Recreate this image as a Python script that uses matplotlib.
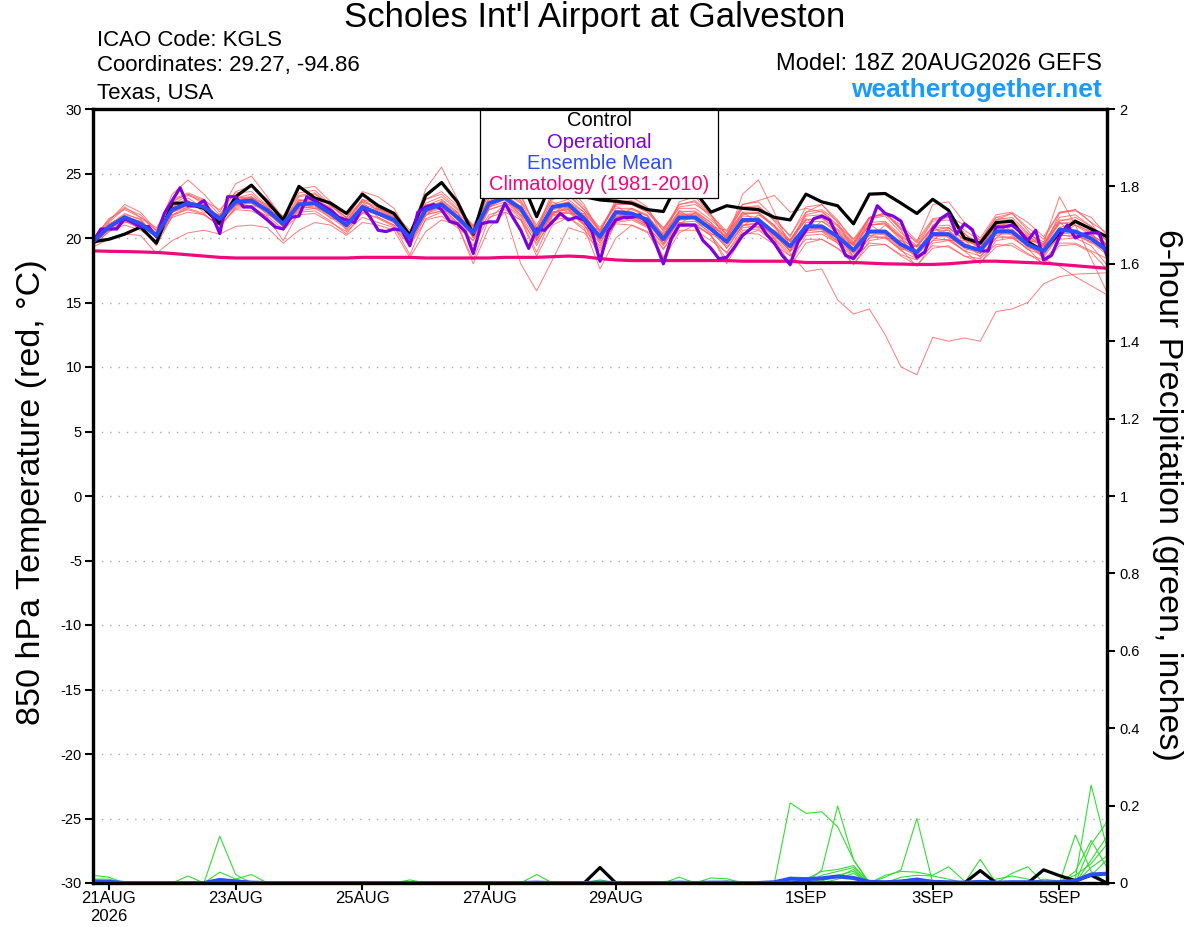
import numpy as np
import pandas as pd
import matplotlib
matplotlib.use('Agg')
import matplotlib.pyplot as plt
from matplotlib.patches import Rectangle

plt.rcParams['font.family'] = ['Liberation Sans', 'DejaVu Sans']
plt.rcParams['axes.unicode_minus'] = False

# 6-hourly ensemble times, 3-hourly operational run
times = pd.date_range('2026-08-20 18:00', periods=65, freq='6h')
times_op = pd.date_range('2026-08-20 18:00', periods=129, freq='3h')

# ---- 850 hPa temperature (C) ----
control = [19.7, 19.9, 20.3, 20.85, 19.6, 22.7, 22.7, 22.3, 21.1, 23.2, 24.1, 22.8, 21.4, 24.0, 23.1, 22.7,
           21.9, 23.4, 22.5, 21.9, 20.2, 23.3, 24.3, 22.8, 20.3, 24.4, 24.2, 24.6, 21.65, 24.5, 23.8, 23.2,
           22.95, 22.85, 22.7, 22.2, 22.05, 24.5, 23.6, 22.0, 22.5, 22.3, 22.2, 21.6, 21.4, 23.4, 22.8, 22.5,
           21.1, 23.4, 23.45, 22.7, 21.9, 23.0, 22.15, 20.0, 19.6, 21.2, 21.3, 19.7, 19.0, 20.4, 21.3, 20.7,
           20.1]

operational = [19.7, 20.7, 20.7, 20.7, 21.5, 21.2, 20.85, 20.9, 20.1, 21.9, 22.9, 23.9, 22.5, 22.5, 22.9, 21.8,
               20.35, 23.2, 23.2, 22.4, 22.4, 21.9, 21.4, 20.85, 20.7, 21.6, 21.7, 23.2, 22.9, 22.5, 22.15, 21.6,
               21.4, 21.2, 22.4, 21.6, 20.6, 20.5, 20.7, 20.6, 19.4, 22.0, 22.4, 22.6, 22.2, 21.3, 21.1, 20.5,
               18.8, 21.1, 21.25, 21.25, 22.7, 21.6, 20.6, 19.2, 20.7, 20.6, 21.25, 21.9, 21.4, 21.6, 21.4, 20.5,
               18.2, 20.5, 21.4, 21.6, 21.6, 21.8, 21.1, 19.6, 18.0, 19.95, 21.0, 21.0, 21.0, 19.8, 19.2, 18.4,
               18.5, 19.3, 20.2, 20.7, 21.25, 20.3, 19.6, 18.65, 17.95, 19.7, 20.6, 21.5, 21.7, 21.4, 20.1, 18.65,
               18.4, 19.2, 20.85, 22.5, 21.9, 21.7, 21.3, 19.8, 18.5, 18.9, 20.7, 21.5, 21.9, 20.3, 21.1, 20.65,
               19.0, 19.0, 20.85, 20.85, 21.0, 20.5, 19.8, 20.6, 18.3, 18.65, 20.1, 21.0, 20.0, 20.3, 20.4, 20.4,
               18.6]

ens_mean = [19.7, 20.85, 21.6, 21.1, 20.2, 22.2, 22.7, 22.4, 21.5, 22.8, 22.9, 22.15, 21.1, 22.6, 22.7, 21.9,
            21.0, 22.4, 21.9, 21.4, 20.0, 22.2, 22.6, 21.6, 20.4, 22.7, 23.1, 22.3, 20.3, 22.4, 22.6, 21.5,
            20.1, 22.0, 21.9, 21.4, 19.9, 21.6, 21.6, 20.7, 19.7, 21.4, 21.4, 20.4, 19.35, 20.9, 20.9, 20.1,
            19.05, 20.5, 20.5, 19.5, 18.9, 20.3, 20.3, 19.4, 19.05, 20.5, 20.5, 19.5, 19.0, 20.65, 20.5, 19.95,
            19.05]

climatology = [19.0, 18.97, 18.95, 18.92, 18.88, 18.8, 18.7, 18.6, 18.5, 18.45, 18.45, 18.45, 18.45, 18.45, 18.45, 18.45,
               18.45, 18.5, 18.5, 18.5, 18.5, 18.45, 18.45, 18.45, 18.45, 18.45, 18.5, 18.5, 18.5, 18.55, 18.6, 18.55,
               18.4, 18.3, 18.25, 18.25, 18.25, 18.25, 18.25, 18.25, 18.25, 18.2, 18.2, 18.2, 18.2, 18.1, 18.1, 18.1,
               18.1, 18.05, 18.0, 17.98, 17.95, 17.95, 18.0, 18.1, 18.2, 18.2, 18.15, 18.1, 18.05, 17.95, 17.85, 17.75,
               17.65]

members = [
    [19.8, 21.2, 22.3, 21.8, 20.5, 23.0, 23.5, 23.0, 21.8, 23.6, 24.0, 23.0, 21.6, 23.5, 23.7, 22.6,
     21.3, 23.0, 22.6, 22.0, 20.4, 23.0, 23.6, 22.5, 20.8, 23.5, 24.2, 23.2, 20.8, 23.2, 23.6, 22.4,
     20.6, 22.8, 22.9, 22.3, 20.5, 22.6, 22.8, 21.6, 20.2, 22.4, 22.5, 21.3, 19.8, 21.8, 22.1, 21.0,
     19.6, 21.5, 21.7, 20.4, 19.4, 21.3, 21.4, 20.3, 19.6, 21.4, 21.6, 20.4, 19.5, 21.6, 21.8, 20.9, 19.8],
    [19.4, 20.5, 21.0, 20.6, 19.8, 21.6, 22.0, 21.8, 21.0, 22.2, 22.1, 21.5, 20.6, 21.8, 21.9, 21.2,
     20.5, 21.6, 21.2, 20.8, 19.4, 21.4, 21.7, 20.8, 19.8, 21.8, 22.2, 21.4, 19.6, 21.4, 21.6, 20.6,
     19.4, 21.1, 21.0, 20.5, 19.2, 20.6, 20.6, 19.8, 18.9, 20.4, 20.3, 19.5, 18.6, 19.9, 19.9, 19.2,
     18.4, 19.6, 19.5, 18.7, 18.3, 19.4, 19.3, 18.6, 18.4, 19.5, 19.4, 18.7, 18.3, 19.6, 19.6, 19.0, 18.4],
    [19.6, 21.0, 21.9, 21.4, 20.0, 22.6, 23.3, 22.8, 21.4, 23.1, 23.4, 22.4, 21.0, 22.9, 23.1, 22.3,
     21.2, 22.8, 22.3, 21.7, 20.2, 22.5, 23.0, 22.0, 20.0, 22.4, 22.8, 21.8, 19.8, 22.0, 22.2, 21.0,
     19.6, 21.6, 21.8, 21.2, 20.2, 22.0, 22.1, 21.2, 20.0, 21.9, 21.9, 20.8, 19.7, 21.4, 21.6, 20.6,
     19.4, 21.0, 21.2, 20.0, 19.0, 20.6, 20.8, 19.8, 19.3, 20.9, 21.0, 20.0, 19.4, 21.2, 21.0, 20.2, 19.2],
    [19.9, 21.5, 22.2, 21.6, 20.6, 22.9, 23.4, 22.6, 21.6, 22.9, 23.2, 22.4, 21.3, 23.2, 23.4, 22.5,
     21.6, 22.9, 22.4, 21.8, 20.4, 22.7, 23.2, 22.2, 20.9, 23.1, 23.6, 22.8, 20.6, 23.0, 23.3, 22.2,
     20.5, 22.7, 22.6, 22.0, 20.6, 22.4, 22.6, 21.8, 20.3, 22.6, 22.8, 21.6, 20.1, 22.4, 22.6, 21.4,
     19.7, 21.6, 21.9, 20.8, 19.6, 21.4, 21.6, 20.6, 19.8, 21.6, 21.9, 20.8, 19.9, 22.0, 22.2, 21.2, 20.4],
    [19.5, 20.7, 21.3, 20.9, 20.3, 22.0, 22.4, 22.3, 21.3, 22.5, 22.7, 22.0, 21.0, 22.3, 22.5, 21.7,
     20.8, 22.2, 21.8, 21.2, 19.8, 21.9, 22.3, 21.2, 19.4, 21.6, 22.0, 18.0, 15.9, 18.3, 20.8, 20.4,
     19.0, 21.2, 21.4, 20.8, 19.6, 21.2, 21.3, 20.4, 19.4, 21.0, 21.1, 20.2, 19.0, 20.6, 20.7, 19.8,
     18.8, 20.2, 20.3, 19.3, 18.6, 20.1, 20.1, 19.2, 18.8, 20.3, 20.3, 19.3, 18.8, 20.4, 20.3, 19.7, 18.7],
    [19.7, 20.9, 21.7, 21.2, 20.1, 22.3, 22.8, 22.3, 21.6, 22.7, 23.0, 22.1, 21.2, 22.7, 22.8, 22.0,
     21.1, 22.5, 22.0, 21.3, 20.1, 22.4, 22.8, 21.7, 20.6, 22.9, 23.4, 22.4, 20.5, 22.5, 22.8, 21.8,
     20.2, 22.0, 22.0, 21.5, 20.0, 21.8, 21.9, 21.0, 20.1, 21.7, 21.6, 20.0, 18.8, 17.4, 17.6, 15.2,
     14.1, 14.5, 12.5, 10.0, 9.4, 12.3, 12.0, 12.25, 12.0, 14.3, 14.5, 15.0, 16.45, 17.0, 17.2, 17.25, 17.3],
    [19.6, 20.8, 21.5, 21.2, 20.4, 22.4, 22.6, 22.5, 21.7, 23.0, 23.1, 22.3, 21.3, 22.9, 23.0, 22.1,
     21.0, 22.6, 22.2, 21.6, 19.6, 22.0, 22.4, 21.6, 20.2, 22.5, 23.0, 22.0, 20.0, 22.0, 22.3, 21.3,
     19.8, 22.1, 22.2, 21.7, 20.2, 22.1, 22.0, 21.0, 19.6, 21.2, 21.3, 20.3, 19.0, 21.2, 21.3, 20.4,
     19.2, 21.0, 21.1, 19.8, 18.8, 20.4, 20.6, 19.6, 19.0, 20.8, 21.0, 19.8, 19.6, 23.2, 21.0, 18.4, 15.8],
    [19.5, 21.0, 21.8, 21.5, 20.0, 21.8, 22.4, 22.6, 21.2, 22.5, 23.1, 22.6, 20.8, 22.2, 22.9, 22.4,
     20.6, 22.0, 22.2, 21.9, 19.5, 21.7, 22.9, 22.0, 20.0, 22.3, 23.5, 22.7, 19.8, 21.8, 22.8, 22.0,
     19.6, 21.5, 22.3, 21.8, 19.5, 21.0, 22.0, 21.2, 19.2, 20.9, 21.8, 21.0, 18.9, 20.4, 21.3, 20.6,
     18.5, 20.0, 21.0, 20.0, 18.3, 19.8, 20.8, 19.9, 18.5, 20.0, 21.0, 20.0, 18.5, 20.2, 21.0, 20.5, 18.6],
    [19.8, 20.9, 21.4, 20.8, 20.4, 22.5, 22.9, 22.0, 21.8, 23.2, 23.0, 21.8, 21.4, 23.0, 22.6, 21.5,
     21.4, 22.8, 21.6, 21.0, 20.5, 22.6, 22.4, 21.2, 20.9, 23.1, 23.0, 21.8, 20.8, 22.8, 22.3, 21.1,
     20.6, 22.5, 21.7, 21.0, 20.4, 22.1, 21.4, 20.3, 20.2, 22.0, 21.2, 20.0, 19.9, 21.5, 20.6, 19.7,
     19.6, 21.1, 20.2, 19.1, 19.4, 20.9, 20.0, 19.0, 19.6, 21.1, 20.2, 19.1, 19.5, 21.2, 20.3, 19.6, 19.6],
    [19.9, 21.3, 22.6, 22.0, 20.6, 23.4, 24.5, 23.4, 22.0, 24.2, 24.8, 23.2, 21.5, 23.8, 24.0, 22.8,
     21.5, 23.6, 23.2, 22.3, 20.2, 23.8, 25.5, 23.0, 20.5, 24.0, 25.0, 23.4, 20.6, 23.6, 24.0, 22.6,
     20.4, 23.0, 23.2, 22.4, 20.0, 22.8, 23.2, 21.8, 19.8, 23.4, 24.5, 22.0, 19.3, 22.0, 22.6, 21.2,
     19.0, 21.5, 22.0, 20.6, 18.7, 21.0, 21.7, 20.4, 19.0, 21.4, 21.9, 20.6, 19.2, 21.9, 22.2, 21.2, 19.3],
    [19.3, 19.9, 20.3, 20.2, 18.8, 19.8, 20.4, 20.6, 20.3, 20.9, 21.0, 20.8, 19.6, 20.6, 21.2, 21.0,
     20.2, 21.2, 21.0, 20.6, 18.5, 20.5, 21.4, 21.0, 18.0, 20.8, 22.0, 21.4, 18.6, 21.0, 21.6, 20.8,
     17.6, 20.0, 21.0, 20.4, 18.4, 20.4, 21.0, 20.2, 18.0, 20.2, 20.6, 19.7, 17.8, 19.6, 19.9, 19.2,
     18.0, 19.4, 19.5, 18.6, 17.9, 19.2, 19.4, 18.6, 18.1, 19.3, 19.6, 18.8, 18.0, 19.4, 19.5, 18.9, 17.6],
    [19.6, 20.6, 21.2, 21.3, 20.3, 22.1, 22.5, 22.8, 21.5, 22.6, 22.5, 22.3, 21.3, 22.4, 22.3, 22.0,
     21.0, 22.1, 22.3, 21.7, 20.2, 21.8, 22.1, 22.0, 20.7, 22.2, 22.6, 22.5, 20.6, 22.0, 21.9, 21.9,
     20.5, 21.7, 21.5, 21.6, 20.3, 21.2, 21.0, 21.0, 20.0, 21.0, 20.8, 20.6, 19.7, 20.6, 20.5, 20.4,
     19.4, 20.2, 20.0, 19.8, 19.3, 20.0, 19.8, 19.8, 19.5, 20.2, 20.0, 19.9, 19.4, 20.3, 20.0, 20.2, 19.5],
    [19.7, 20.7, 21.5, 21.0, 20.1, 22.0, 22.6, 22.2, 21.3, 22.6, 22.7, 21.9, 20.9, 22.3, 22.4, 21.8,
     20.9, 22.3, 21.8, 21.2, 19.7, 22.1, 22.5, 21.7, 20.2, 22.6, 23.0, 22.0, 20.4, 22.6, 23.0, 22.0,
     20.6, 22.6, 22.8, 22.2, 20.7, 22.6, 22.9, 21.8, 20.5, 22.3, 22.4, 21.4, 20.2, 22.0, 22.2, 21.3,
     19.9, 21.6, 21.8, 21.0, 19.8, 21.5, 21.7, 21.0, 20.0, 21.8, 22.0, 21.2, 20.1, 22.0, 22.1, 21.6, 20.2],
    [19.5, 20.8, 21.6, 20.9, 19.4, 21.7, 22.3, 21.9, 20.8, 22.4, 22.5, 21.6, 19.8, 22.0, 22.1, 21.3,
     20.3, 22.0, 21.5, 20.9, 18.7, 21.5, 22.0, 21.0, 18.3, 21.5, 22.6, 21.5, 18.9, 21.7, 22.1, 21.1,
     18.4, 21.3, 21.5, 20.9, 18.5, 20.9, 21.0, 20.2, 18.3, 20.6, 20.7, 19.9, 18.0, 20.2, 20.3, 19.6,
     17.9, 19.8, 20.0, 19.1, 17.8, 19.6, 19.8, 19.0, 18.0, 19.8, 20.0, 19.2, 17.9, 19.9, 20.0, 19.4, 17.9],
    [19.8, 21.1, 21.7, 21.0, 20.2, 22.4, 23.1, 22.3, 21.7, 23.1, 23.2, 22.1, 21.1, 22.8, 23.0, 21.8,
     21.3, 23.0, 22.1, 21.6, 20.3, 22.4, 22.6, 21.4, 20.1, 22.4, 23.1, 22.4, 19.9, 21.9, 22.4, 21.5,
     19.9, 21.8, 21.8, 21.2, 19.6, 21.4, 21.5, 20.6, 19.2, 21.0, 21.2, 20.2, 19.0, 20.8, 20.7, 19.8,
     18.6, 20.4, 20.4, 19.2, 18.7, 20.6, 20.6, 19.4, 18.8, 20.7, 20.6, 19.4, 18.6, 20.8, 21.2, 20.3, 19.4],
    [19.6, 20.9, 21.5, 21.2, 20.3, 22.3, 22.8, 22.5, 21.4, 22.9, 23.0, 22.2, 21.2, 22.7, 22.9, 21.9,
     21.1, 22.5, 22.0, 21.6, 20.0, 22.3, 22.8, 21.9, 20.4, 22.8, 23.3, 22.3, 20.1, 22.4, 22.6, 21.7,
     20.3, 22.3, 22.3, 21.7, 20.2, 21.9, 21.8, 21.0, 20.1, 21.8, 22.0, 20.9, 19.8, 21.7, 21.8, 20.9,
     19.5, 21.6, 21.9, 20.7, 19.7, 22.6, 22.8, 21.2, 19.8, 21.6, 21.4, 20.3, 19.7, 21.4, 21.4, 20.6, 19.8],
    [19.4, 20.5, 21.3, 20.7, 19.7, 21.8, 22.2, 21.8, 21.0, 22.3, 22.4, 21.7, 20.7, 22.1, 22.3, 21.6,
     20.7, 21.9, 21.6, 21.0, 19.5, 21.8, 22.1, 21.1, 19.8, 22.2, 22.6, 21.7, 19.4, 21.8, 22.0, 21.0,
     19.2, 21.6, 21.6, 20.9, 19.1, 21.1, 21.1, 20.2, 18.8, 20.8, 20.9, 19.9, 18.6, 20.4, 20.5, 19.6,
     18.5, 20.0, 20.1, 19.0, 18.4, 19.8, 19.9, 19.0, 18.6, 20.0, 20.1, 19.1, 18.7, 20.2, 20.2, 19.7, 18.9],
    [20.0, 21.4, 22.4, 21.6, 20.8, 22.8, 23.4, 22.9, 22.2, 23.5, 23.6, 22.5, 21.7, 23.3, 23.5, 22.5,
     21.6, 23.3, 22.5, 21.9, 20.6, 23.0, 23.4, 22.3, 21.0, 23.4, 24.2, 22.9, 21.0, 23.2, 23.4, 22.2,
     20.8, 22.6, 22.6, 22.0, 20.8, 22.3, 22.3, 21.4, 20.3, 22.0, 22.0, 21.0, 19.8, 21.4, 21.5, 20.7,
     19.5, 21.0, 21.1, 20.1, 19.3, 20.9, 21.0, 20.1, 19.3, 21.0, 21.1, 20.2, 19.3, 21.1, 21.3, 20.7, 19.5],
    [19.6, 20.8, 21.4, 21.0, 20.1, 22.0, 22.6, 22.2, 21.4, 22.6, 22.8, 22.0, 20.9, 22.4, 22.6, 21.8,
     21.0, 22.3, 21.8, 21.3, 19.9, 22.0, 22.5, 21.5, 20.3, 22.5, 23.0, 22.1, 20.1, 22.0, 22.2, 21.2,
     19.8, 21.7, 21.8, 21.0, 19.4, 21.4, 21.6, 20.9, 20.6, 22.6, 22.9, 23.3, 22.0, 22.3, 22.0, 21.0,
     19.9, 21.2, 21.3, 20.2, 19.3, 20.8, 20.8, 19.9, 19.3, 20.9, 21.0, 20.1, 19.5, 21.3, 21.6, 20.9, 19.8],
    [19.7, 21.0, 21.7, 21.3, 20.2, 22.2, 22.8, 22.5, 21.5, 22.9, 23.0, 22.2, 21.1, 22.6, 22.7, 21.9,
     21.0, 22.4, 21.9, 21.4, 19.9, 22.1, 22.6, 21.6, 20.3, 22.6, 23.1, 22.2, 20.2, 22.2, 22.4, 21.4,
     20.0, 21.9, 21.8, 21.3, 19.8, 21.5, 21.5, 20.6, 19.6, 21.3, 21.3, 20.3, 19.2, 20.8, 20.8, 20.0,
     18.9, 20.4, 20.4, 19.4, 18.8, 20.2, 20.3, 19.4, 19.1, 20.6, 20.7, 19.6, 18.4, 17.8, 17.0, 16.3, 15.6],
]

# ---- 6-hour precipitation (inches) ----
prcp_control = [0, 0, 0, 0, 0, 0, 0, 0, 0, 0, 0, 0, 0, 0, 0, 0,
                0, 0, 0, 0, 0, 0, 0, 0, 0, 0, 0, 0, 0, 0, 0, 0,
                0.04, 0, 0, 0, 0, 0, 0, 0, 0, 0, 0, 0, 0, 0, 0, 0,
                0, 0, 0, 0, 0, 0, 0, 0, 0.032, 0, 0, 0, 0.034, 0.019, 0.006, 0.02,
                0]

prcp_mean = [0.004, 0.003, 0, 0, 0, 0, 0, 0, 0.008, 0.004, 0.001, 0, 0, 0, 0, 0,
             0, 0, 0, 0, 0, 0, 0, 0, 0, 0, 0, 0, 0.001, 0, 0, 0,
             0.001, 0, 0, 0, 0, 0.001, 0, 0.001, 0.001, 0, 0, 0.002, 0.011, 0.01, 0.012, 0.017,
             0.013, 0.003, 0.002, 0.004, 0.009, 0.003, 0.002, 0.001, 0.003, 0.001, 0.002, 0.002, 0.002, 0.002, 0.006, 0.022,
             0.024]

prcp_members = [
    [0.02, 0.015, 0, 0, 0, 0, 0, 0, 0.028, 0.01, 0, 0, 0, 0, 0, 0,
     0, 0, 0, 0, 0, 0, 0, 0, 0, 0, 0, 0, 0, 0, 0, 0,
     0, 0, 0, 0, 0, 0, 0, 0, 0, 0, 0, 0, 0.015, 0.01, 0.005, 0.02,
     0.03, 0, 0, 0, 0, 0, 0, 0, 0, 0, 0, 0, 0, 0, 0.01, 0.253, 0.09],
    [0.01, 0.01, 0, 0, 0, 0, 0.018, 0, 0, 0, 0, 0, 0, 0, 0, 0,
     0, 0, 0, 0, 0, 0, 0, 0, 0, 0, 0, 0, 0.022, 0, 0, 0,
     0, 0, 0, 0, 0, 0, 0, 0, 0, 0, 0, 0, 0.207, 0.18, 0.184, 0.145,
     0.06, 0, 0, 0, 0, 0, 0, 0, 0, 0, 0.025, 0.042, 0, 0, 0.124, 0.03, 0],
    [0, 0, 0, 0, 0, 0, 0, 0, 0.121, 0.022, 0, 0, 0, 0, 0, 0,
     0, 0, 0, 0, 0, 0, 0, 0, 0, 0, 0, 0, 0, 0, 0, 0,
     0, 0, 0, 0, 0, 0, 0, 0, 0, 0, 0, 0, 0, 0, 0.034, 0.199,
     0.06, 0, 0, 0, 0, 0, 0, 0, 0, 0, 0, 0, 0, 0, 0, 0.1, 0.158],
    [0, 0, 0, 0, 0, 0, 0, 0, 0, 0.01, 0.022, 0, 0, 0, 0, 0,
     0, 0, 0, 0, 0.008, 0, 0, 0, 0, 0, 0, 0, 0, 0, 0, 0,
     0, 0, 0, 0, 0, 0, 0, 0, 0, 0, 0, 0, 0, 0, 0, 0,
     0, 0, 0.015, 0.034, 0.167, 0, 0, 0, 0.061, 0, 0, 0, 0, 0, 0, 0.06, 0.12],
    [0, 0, 0, 0, 0, 0, 0, 0, 0, 0, 0, 0, 0, 0, 0, 0,
     0, 0, 0, 0, 0, 0, 0, 0, 0, 0, 0, 0, 0, 0, 0, 0,
     0.008, 0, 0, 0, 0, 0.015, 0, 0, 0, 0, 0, 0, 0, 0.01, 0.03, 0.035,
     0.045, 0, 0.02, 0.03, 0.028, 0.02, 0.042, 0.005, 0, 0, 0, 0, 0, 0, 0.03, 0.11, 0.04],
    [0, 0, 0, 0, 0, 0, 0, 0, 0, 0, 0, 0, 0, 0, 0, 0,
     0, 0, 0, 0, 0, 0, 0, 0, 0, 0, 0, 0, 0, 0, 0, 0,
     0, 0, 0, 0, 0, 0, 0, 0.013, 0.011, 0, 0, 0, 0, 0, 0.02, 0.03,
     0.04, 0.005, 0, 0.015, 0.02, 0.018, 0.01, 0, 0, 0, 0, 0, 0.01, 0.005, 0.02, 0.05, 0.1],
    [0, 0, 0, 0, 0, 0, 0, 0, 0, 0, 0, 0, 0, 0, 0, 0,
     0, 0, 0, 0, 0, 0, 0, 0, 0, 0, 0, 0, 0, 0, 0, 0,
     0, 0, 0, 0, 0, 0, 0, 0, 0, 0, 0, 0, 0.01, 0.008, 0.012, 0.015,
     0.035, 0, 0, 0, 0, 0, 0, 0, 0, 0.01, 0.018, 0.01, 0, 0, 0, 0.04, 0.07],
    [0, 0, 0, 0, 0, 0, 0, 0, 0, 0, 0, 0, 0, 0, 0, 0,
     0, 0, 0, 0, 0, 0, 0, 0, 0, 0, 0, 0, 0, 0, 0, 0,
     0, 0, 0, 0, 0, 0, 0, 0, 0.005, 0, 0, 0, 0, 0, 0, 0.01,
     0.025, 0, 0, 0, 0.01, 0, 0, 0, 0, 0, 0, 0, 0, 0, 0, 0.02, 0.06],
]

tick_dates = ['2026-08-21', '2026-08-23', '2026-08-25', '2026-08-27', '2026-08-29',
              '2026-09-01', '2026-09-03', '2026-09-05']
tick_labels = ['21AUG\n2026', '23AUG', '25AUG', '27AUG', '29AUG', '1SEP', '3SEP', '5SEP']

RED = '#ff5a5a'
GREEN = '#33dd33'
PURPLE = '#7f00df'
BLUE = '#2a4dff'
PINK = '#f0087c'

W, H = 1200, 927
fig = plt.figure(figsize=(W / 100, H / 100), dpi=100)
ax = fig.add_axes([93 / W, 44 / H, 1014 / W, 774 / H])
ax2 = ax.twinx()

# temperature
for v in range(-25, 30, 5):
    ax.axhline(v, color='#a8a8a8', lw=1.0, ls=(0, (1, 5)), zorder=1)
for m in members:
    ax.plot(times, m, color=RED, lw=0.7, alpha=0.8, zorder=2)
ax.plot(times, climatology, color=PINK, lw=2.3, zorder=4)
ax.plot(times, control, color='black', lw=2.3, zorder=5)
ax.plot(times_op, operational, color=PURPLE, lw=2.3, zorder=6)
ax.plot(times, ens_mean, color=BLUE, lw=2.9, zorder=7)

ax.set_ylim(-30, 30)
ax.set_yticks(range(-30, 31, 5))
ax.set_xlim(times[0], times[-1])
ax.set_xticks(pd.to_datetime(tick_dates))
ax.set_xticklabels(tick_labels)
ax.tick_params(axis='y', direction='out', length=6, width=1.5, labelsize=10.5, pad=2)
ax.tick_params(axis='x', direction='out', length=5, width=1.5, labelsize=12, pad=1)

# precipitation
for p in prcp_members:
    ax2.plot(times, p, color=GREEN, lw=0.8, zorder=2)
ax2.plot(times, prcp_control, color='black', lw=2.3, zorder=3)
ax2.plot(times, prcp_mean, color=BLUE, lw=2.9, zorder=4)
ax2.set_ylim(0, 2)
ax2.set_xlim(times[0], times[-1])
ax2.set_yticks(np.arange(0, 2.01, 0.2))
ax2.set_yticklabels(['%g' % round(v, 1) for v in np.arange(0, 2.01, 0.2)])
ax2.tick_params(axis='y', direction='out', length=6, width=1.5, labelsize=10.5, pad=3)

for a in (ax, ax2):
    for s in a.spines.values():
        s.set_linewidth(2.3)
        s.set_zorder(20)

# legend box
ax2.add_patch(Rectangle((0.382, 0.885), 0.234, 0.115, transform=ax2.transAxes,
                        facecolor='white', edgecolor='black', lw=0.9, zorder=10))
leg_items = [('Control', 'black'), ('Operational', PURPLE),
             ('Ensemble Mean', BLUE), ('Climatology (1981-2010)', PINK)]
for i, (txt, col) in enumerate(leg_items):
    ax2.text(0.4995, 0.9845 - i * 0.0275, txt, color=col, fontsize=14.5,
             ha='center', va='center', transform=ax2.transAxes, zorder=11)

# header text
fig.text(595 / W, 1 - 18 / H, "Scholes Int'l Airport at Galveston", fontsize=25,
         ha='center', va='center')
fig.text(97 / W, 1 - 40 / H, 'ICAO Code: KGLS', fontsize=16, ha='left', va='center')
fig.text(97 / W, 1 - 66 / H, 'Coordinates: 29.27, -94.86', fontsize=16, ha='left', va='center')
fig.text(97 / W, 1 - 93 / H, 'Texas, USA', fontsize=16, ha='left', va='center')
fig.text(1102 / W, 1 - 64 / H, 'Model: 18Z 20AUG2026 GEFS', fontsize=17, ha='right', va='center')
fig.text(1102 / W, 1 - 90 / H, 'weathertogether.net', fontsize=19, fontweight='bold',
         color='#1a9bfc', ha='right', va='center')

fig.text(32 / W, 1 - 492 / H, '850 hPa Temperature (red, \u00b0C)', fontsize=24.5,
         rotation=90, ha='center', va='center')
fig.text(1168 / W, 1 - 495 / H, '6-hour Precipitation (green, inches)', fontsize=24.5,
         rotation=-90, ha='center', va='center')

fig.savefig('out.png', dpi=100)
